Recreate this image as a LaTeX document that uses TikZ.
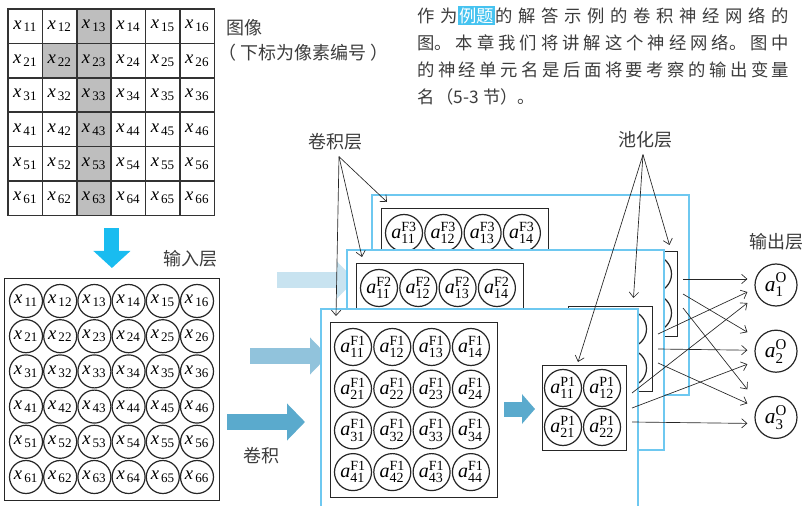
\documentclass[tikz,border=0pt]{standalone}
\usepackage{amsmath}
\usepackage{fontspec}
\setmainfont{Liberation Serif}
\newfontfamily\cjk{Noto Sans CJK SC}
\XeTeXlinebreaklocale "zh"
\XeTeXlinebreakskip=0pt plus 1pt
\setlength{\fboxsep}{1pt}
\usetikzlibrary{positioning, calc, arrows.meta}
\definecolor{txtGray}{RGB}{60,60,60}
\definecolor{cellGray}{RGB}{190,190,190}
\definecolor{frameCyan}{RGB}{110,200,240}
\definecolor{downCyan}{RGB}{25,188,240}
\definecolor{arrowDark}{RGB}{90,170,205}
\definecolor{arrowMid}{RGB}{145,195,220}
\definecolor{arrowLight}{RGB}{200,227,240}
\definecolor{markCyan}{RGB}{70,195,240}

\begin{document}
\begin{tikzpicture}[
    x=0.75pt, y=-0.75pt,
    lbl/.style={font=\cjk\fontsize{13.5}{16}\selectfont, text=txtGray, inner sep=0pt},
    para/.style={anchor=north west, text width=279pt, align=justify, inner sep=0pt,
                 font=\cjk\fontsize{13}{20.25}\selectfont, text=txtGray},
    cell/.style={rectangle, draw=black!80, line width=1.1pt, minimum size=25.8pt,
                 inner sep=0pt, font=\fontsize{14}{16}\selectfont},
    xneuron/.style={circle, draw=black!85, line width=0.9pt, minimum size=24.75pt,
                    inner sep=0pt, font=\fontsize{14}{16}\selectfont},
    aneuron/.style={circle, draw=black!85, fill=white, line width=0.9pt, minimum size=27.75pt,
                    inner sep=0pt, font=\fontsize{15}{17}\selectfont},
    oneuron/.style={circle, draw=black!85, line width=0.9pt, minimum size=31.5pt,
                    inner sep=0pt, font=\fontsize{16}{18}\selectfont},
    layerbox/.style={rectangle, draw=black!85, fill=white, line width=1.1pt,
                     anchor=north west, inner sep=0pt},
    frame/.style={rectangle, draw=frameCyan, fill=white, line width=1.6pt, anchor=north west,
                  inner sep=0pt, minimum width=237.75pt, minimum height=150pt},
    fat/.style={line width=12pt, -{Triangle[length=13.5pt, width=27pt]}},
    downfat/.style={line width=11.25pt, draw=downCyan, -{Triangle[length=12.75pt, width=27pt]}},
    poolfat/.style={line width=11.25pt, draw=arrowDark, -{Triangle[length=9.75pt, width=21.75pt]}},
    link/.style={-{Straight Barb[length=4pt, width=7pt]}, line width=0.5pt, black!85},
  ]
    \useasboundingbox (0,0) rectangle (804,506);

    % image pixels
    \foreach \i/\j in {1/3,2/2,2/3,3/3,4/3,5/3,6/3}
      \fill[cellGray] ({8+34.4*(\j-1)},{9+34.4*(\i-1)}) rectangle +(34.4,34.4);
    \foreach \i in {1,...,6}
      \foreach \j in {1,...,6}
        \node[cell] (img\i\j) at ({25.2+34.4*(\j-1)},{26.2+34.4*(\i-1)}) {$\textit{x}_{\kern1.5pt\text{\i\j}}$};
    \node[lbl, anchor=west] (imglbl) at (226,28) {图像};
    \node[lbl, anchor=west] (idxlbl) at (218,53) {（\hspace{3pt}下标为像素编号\hspace{3pt}）};

    % input layer
    \node[layerbox, minimum width=161.25pt, minimum height=166.5pt] (inbox) at (4,278) {};
    \foreach \i in {1,...,6}
      \foreach \j in {1,...,6}
        \node[xneuron] (in\i\j) at ({26+34.2*(\j-1)},{301+35.2*(\i-1)}) {$\textit{x}_{\kern1.5pt\text{\i\j}}$};
    \node[lbl] (inlbl) at (190,259) {输入层};
    \draw[downfat] ($(img63.south east)+(0,12)$) -- ($(img63.south east |- inbox.north)+(0,-10)$);
    \node[lbl] (convop) at (261,456) {卷积};

    % convolution and pooling layers, back to front
    \foreach \k/\dx/\dy/\ax/\ay/\acol in {3/51/-114/277/280/arrowLight,
                                         2/26/-59/250/356/arrowMid,
                                         1/0/0/227/422/arrowDark}{
      \coordinate (fat\k s) at (\ax,\ay);
      \coordinate (fat\k e) at ({\ax+78},\ay);
      \draw[fat, draw=\acol] (fat\k s) -- (fat\k e);
      \begin{scope}[shift={(\dx,\dy)}]
        \node[frame] (fr\k) at (320,308) {};
        \node[layerbox, minimum width=125.25pt, minimum height=131.25pt] (conv\k) at (330,322) {};
        \foreach \i in {1,...,4}
          \foreach \j in {1,...,4}
            \node[aneuron] (c\k\i\j) at ({353+39.3*(\j-1)},{347+41.7*(\i-1)}) {$\textit{a}^{\text{F\k}}_{\text{\i\j}}$};
        \node[layerbox, minimum width=63pt, minimum height=63.75pt] (pool\k) at (542,365) {};
        \foreach \i in {1,2}
          \foreach \j in {1,2}
            \node[aneuron] (p\k\i\j) at ({563+39*(\j-1)},{388+39*(\i-1)}) {\ifnum\k=1 $\textit{a}^{\text{P1}}_{\text{\i\j}}$\fi};
        \coordinate (cp\k s) at (504,409);
        \coordinate (cp\k e) at (535,409);
        \draw[poolfat] (cp\k s) -- (cp\k e);
        \coordinate (s\k a) at (632,393);
        \coordinate (s\k b) at (632,408);
        \coordinate (s\k c) at (632,422);
      \end{scope}
    }

    % output layer
    \node[oneuron] (o1) at (776,285) {$\textit{a}^{\text{O}}_{\text{1}}$};
    \node[oneuron, below=17.25pt of o1] (o2) {$\textit{a}^{\text{O}}_{\text{2}}$};
    \node[oneuron, below=17.25pt of o2] (o3) {$\textit{a}^{\text{O}}_{\text{3}}$};
    \node[lbl] (outlbl) at (776,242) {输出层};

    \foreach \k/\a/\b/\c in {3/-6/-19/-28, 2/7/-1/-14, 1/18/13/6}{
      \draw[link] (s\k a) -- ($(o1.west)+(-7,\a)$);
      \draw[link] (s\k b) -- ($(o2.west)+(-7,\b)$);
      \draw[link] (s\k c) -- ($(o3.west)+(-7,\c)$);
    }

    % layer labels
    \node[lbl] (convlbl) at (335,142) {卷积层};
    \node[lbl] (poollbl) at (645,140) {池化层};
    \coordinate (convapex) at ($(convlbl.south)+(4,6)$);
    \coordinate (poolapex) at ($(poollbl.south)+(-2,6)$);
    \foreach \k in {1,2,3}
      \draw[link] (convapex) -- ($(conv\k.north west)+(6,-6)$);
    \draw[link] (poolapex) -- ($(pool3.north east)+(-9,-6)$);
    \draw[link] (poolapex) -- ($(pool2.north east)+(-20,-8)$);
    \draw[link] (poolapex) -- ($(pool1.north west)+(36,-3)$);

    % note
    \node[para] (note) at (417,6) {\parindent=0pt\XeTeXlinebreakskip=1.5pt plus 4pt\relax
      作为\colorbox{markCyan}{\textcolor{white}{例题}}的解答示例的卷积神经网络的\linebreak
      图。本章我们将讲解这个神经网络。图中\linebreak
      的神经单元名是后面将要考察的输出变量\linebreak
      名（5-3 节）。};
\end{tikzpicture}
\end{document}
